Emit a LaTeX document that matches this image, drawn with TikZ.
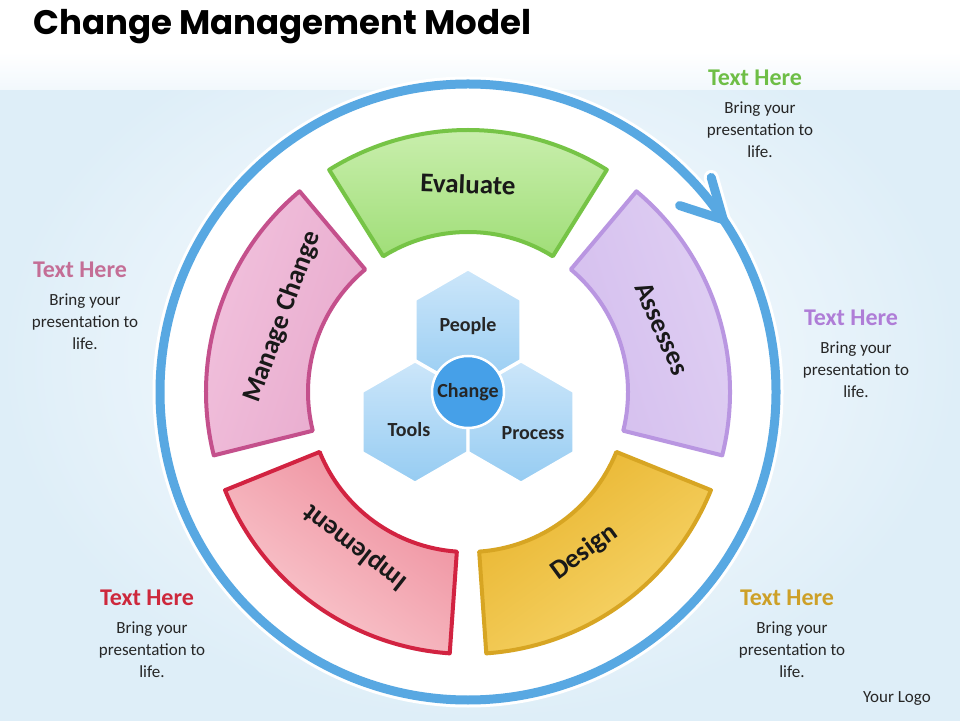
\documentclass[tikz,border=0pt]{standalone}
\usepackage{fontspec}
\setmainfont{Carlito}
\newfontfamily\titlefont{Poppins}
\usetikzlibrary{shapes.geometric,calc}

\definecolor{bgblue}{RGB}{222,238,248}
\definecolor{ringblue}{RGB}{88,168,226}
\definecolor{hextop}{RGB}{204,230,250}
\definecolor{hexbot}{RGB}{150,204,242}
\definecolor{midblue}{RGB}{70,160,232}
\definecolor{evlight}{RGB}{205,240,178}
\definecolor{evdark}{RGB}{160,222,120}
\definecolor{evline}{RGB}{118,196,70}
\definecolor{aslight}{RGB}{224,208,243}
\definecolor{asdark}{RGB}{212,190,238}
\definecolor{asline}{RGB}{185,150,225}
\definecolor{delight}{RGB}{248,215,110}
\definecolor{dedark}{RGB}{232,180,45}
\definecolor{deline}{RGB}{215,165,35}
\definecolor{imlight}{RGB}{250,205,210}
\definecolor{imdark}{RGB}{238,140,155}
\definecolor{imline}{RGB}{210,35,65}
\definecolor{malight}{RGB}{242,195,222}
\definecolor{madark}{RGB}{232,170,205}
\definecolor{maline}{RGB}{196,80,140}
\definecolor{txgreen}{RGB}{110,190,70}
\definecolor{txpink}{RGB}{196,110,150}
\definecolor{txpurple}{RGB}{175,125,215}
\definecolor{txred}{RGB}{205,40,60}
\definecolor{txgold}{RGB}{205,160,40}

\tikzset{
	seg/.style={line width=4pt, line join=round},
	seglabel/.style={font=\fontsize{27}{27}\selectfont\bfseries, text=black!90, inner sep=0pt},
	hexa/.style={regular polygon, regular polygon sides=6, shape border rotate=30, minimum size=122pt, inner sep=0pt, draw=white, line width=3pt, top color=hextop, bottom color=hexbot},
	hexlabel/.style={font=\fontsize{20}{20}\selectfont\bfseries, text=black!85, inner sep=0pt},
	head/.style={font=\fontsize{24}{24}\selectfont\bfseries, inner sep=0pt},
	body/.style={font=\fontsize{17}{22}\selectfont, align=center, text=black!85, inner sep=0pt},
}

\begin{document}
\begin{tikzpicture}[x=1pt,y=1pt]
			\useasboundingbox (0,0) rectangle (960,720);
			\shade[inner color=white, outer color=bgblue] (0,0) rectangle (960,720);
			\shade[top color=white, bottom color=white!60!bgblue] (0,630) rectangle (960,668);
			\fill[white] (0,668) rectangle (960,720);

			\node[anchor=west, font=\titlefont\fontsize{34}{34}\selectfont\bfseries, inner sep=0pt] (TT) at (33,693) {Change Management Model};

			\begin{scope}[shift={(468,328)}]
				\fill[white] (0,0) circle (302);

				\coordinate (AT) at (34:308);
				\coordinate (AB) at ($(AT)+(106:44)$);
				\coordinate (AC) at ($(AT)+(162:46)$);
				\draw[white, line width=15pt] (0,0) circle (308);
				\draw[white, line width=15pt, line cap=round] (AB)--(AT)--(AC);
				\draw[ringblue, line width=9pt] (0,0) circle (308);
				\draw[ringblue, line width=9pt, line cap=round, line join=round] (AB)--(AT)--(AC);

				\shadedraw[seg, draw=evline, top color=evlight, bottom color=evdark, shading angle=0]
					(58:262) arc[start angle=58, end angle=122, radius=262] -- (122:160) arc[start angle=122, end angle=58, radius=160] -- cycle;
				\shadedraw[seg, draw=asline, top color=aslight, bottom color=asdark, shading angle=-72]
					(-14:262) arc[start angle=-14, end angle=50, radius=262] -- (50:160) arc[start angle=50, end angle=-14, radius=160] -- cycle;
				\shadedraw[seg, draw=deline, top color=delight, bottom color=dedark, shading angle=-144]
					(-86:262) arc[start angle=-86, end angle=-22, radius=262] -- (-22:160) arc[start angle=-22, end angle=-86, radius=160] -- cycle;
				\shadedraw[seg, draw=imline, top color=imlight, bottom color=imdark, shading angle=144]
					(-158:262) arc[start angle=-158, end angle=-94, radius=262] -- (-94:160) arc[start angle=-94, end angle=-158, radius=160] -- cycle;
				\shadedraw[seg, draw=maline, top color=malight, bottom color=madark, shading angle=72]
					(130:262) arc[start angle=130, end angle=194, radius=262] -- (194:160) arc[start angle=194, end angle=130, radius=160] -- cycle;

				\node[seglabel, rotate=-2] (EV) at (90:208) {Evaluate};
				\node[seglabel, rotate=-66] (AS) at (18:204) {Assesses};
				\node[seglabel, rotate=36] (DE) at (-54:198) {Design};
				\node[seglabel, rotate=142] (IM) at (-126:192) {Implement};
				\node[seglabel, rotate=70] (MA) at (158:200) {Manage Change};
			\end{scope}

			\node[hexa] (HP) at (468,390) {};
			\node[hexa] (HT) at (415,298) {};
			\node[hexa] (HR) at (521,298) {};
			\node[circle, fill=midblue, draw=white, line width=2.5pt, minimum size=72pt, inner sep=0pt, font=\fontsize{20}{20}\selectfont\bfseries, text=black!85] (HC) at (468,328) {Change};
			\node[hexlabel] (LP) at (468,394) {People};
			\node[hexlabel] (LT) at (409,290) {Tools};
			\node[hexlabel] (LR) at (533,287) {Process};

			\node[head, text=txgreen] (G1) at (755,642) {Text Here};
			\node[body] (G2) at (760,590) {Bring your\\presentation to\\life.};
			\node[head, text=txpink] (P1) at (80,450) {Text Here};
			\node[body] (P2) at (85,398) {Bring your\\presentation to\\life.};
			\node[head, text=txpurple] (V1) at (851,402) {Text Here};
			\node[body] (V2) at (856,350) {Bring your\\presentation to\\life.};
			\node[head, text=txred] (R1) at (147,122) {Text Here};
			\node[body] (R2) at (152,70) {Bring your\\presentation to\\life.};
			\node[head, text=txgold] (Y1) at (787,122) {Text Here};
			\node[body] (Y2) at (792,70) {Bring your\\presentation to\\life.};

			\node[font=\fontsize{17}{17}\selectfont, text=black!85, inner sep=0pt] (LG) at (897,21) {Your Logo};
		    \end{tikzpicture}
\end{document}
